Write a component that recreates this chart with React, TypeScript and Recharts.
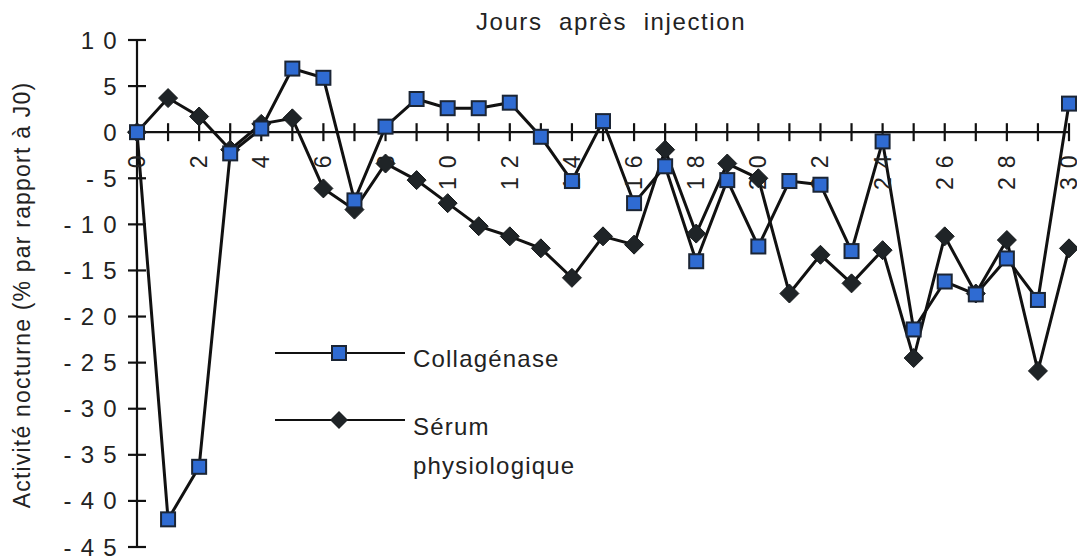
import React from 'react';
import { LineChart, Line, XAxis, YAxis, ReferenceLine, ReferenceDot } from 'recharts';

const days = [0,1,2,3,4,5,6,7,8,9,10,11,12,13,14,15,16,17,18,19,20,21,22,23,24,25,26,27,28,29,30];
const collagenase = [0,-42,-36.3,-2.3,0.4,6.9,5.9,-7.4,0.6,3.6,2.6,2.6,3.2,-0.5,-5.3,1.2,-7.7,-3.7,-14.0,-5.2,-12.4,-5.3,-5.7,-12.9,-1.0,-21.4,-16.2,-17.6,-13.7,-18.2,3.1];
const serum = [0,3.7,1.7,-1.9,0.9,1.5,-6.1,-8.4,-3.4,-5.2,-7.7,-10.2,-11.3,-12.6,-15.8,-11.3,-12.2,-1.9,-11.0,-3.4,-5.0,-17.5,-13.3,-16.4,-12.8,-24.5,-11.3,-17.5,-11.7,-25.9,-12.6];
const yTicks = [10,5,0,-5,-10,-15,-20,-25,-30,-35,-40,-45];
const xLabelDays = [0,2,4,6,8,10,12,14,16,18,20,22,24,26,28,30];

const data = days.map((d, i) => ({ day: d, collagenase: collagenase[i], serum: serum[i] }));

const FONT = '"Liberation Sans", Arial, sans-serif';
const TXT = '#222';

const spaced = (v: number) => {
  const s = String(Math.abs(v)).split('').join(' ');
  return v < 0 ? '- ' + s : s;
};

const SquareDot = (props: any) => {
  const { cx, cy } = props;
  if (cx == null || cy == null) return null;
  return <rect x={cx - 7} y={cy - 7} width={14} height={14} fill="#2f6bd2" stroke="#1b2535" strokeWidth={2} />;
};

const DiamondDot = (props: any) => {
  const { cx, cy } = props;
  if (cx == null || cy == null) return null;
  return <polygon points={`${cx},${cy - 9.5} ${cx + 9.5},${cy} ${cx},${cy + 9.5} ${cx - 9.5},${cy}`} fill="#1f2427" stroke="#15191b" strokeWidth={1} />;
};

const YTick = (props: any) => {
  const { x, y, payload } = props;
  return (
    <text x={x} y={y} textAnchor="end" dominantBaseline="central" fontFamily={FONT} fontSize={24} letterSpacing={1.3} fill={TXT}>
      {spaced(payload.value)}
    </text>
  );
};

const YTickMark = (props: any) => {
  const { cx, cy } = props;
  return <line x1={cx - 9} x2={cx + 9} y1={cy} y2={cy} stroke="#111" strokeWidth={2.2} />;
};

const makeXTick = (d: number) => (props: any) => {
  const { cx, cy } = props;
  const showLabel = xLabelDays.includes(d);
  return (
    <g>
      <line x1={cx} x2={cx} y1={cy - 9} y2={cy + 9} stroke="#111" strokeWidth={2.2} />
      {showLabel && (
        <text
          x={cx}
          y={cy + 22}
          transform={`rotate(-90 ${cx} ${cy + 22})`}
          textAnchor="end"
          dominantBaseline="central"
          fontFamily={FONT}
          fontSize={23}
          letterSpacing={1.3}
          fill={TXT}
        >
          {String(d).split('').join(' ')}
        </text>
      )}
    </g>
  );
};

export default function App() {
  return (
    <div style={{ position: 'absolute', left: 0, top: 0, width: 1077, height: 560, background: '#fff', overflow: 'hidden' }}>
      <LineChart width={1077} height={560} data={data} margin={{ top: 40, right: 8, bottom: 13, left: 0 }}>
        <XAxis dataKey="day" type="number" domain={[0, 30]} hide />
        <YAxis
          type="number"
          domain={[-45, 10]}
          ticks={yTicks}
          width={137}
          interval={0}
          tickLine={false}
          tickSize={9}
          tickMargin={10}
          axisLine={{ stroke: '#111', strokeWidth: 2.2 }}
          tick={<YTick />}
          allowDataOverflow
        />
        <ReferenceLine y={0} stroke="#111" strokeWidth={2.2} ifOverflow="extendDomain" />
        {yTicks.map((v) => (
          <ReferenceDot key={'yt' + v} x={0} y={v} r={0} shape={YTickMark} ifOverflow="visible" />
        ))}
        {days.map((d) => (
          <ReferenceDot key={'xt' + d} x={d} y={0} r={0} shape={makeXTick(d)} ifOverflow="visible" />
        ))}
        <Line type="linear" dataKey="serum" stroke="#111" strokeWidth={3} dot={DiamondDot} isAnimationActive={false} />
        <Line type="linear" dataKey="collagenase" stroke="#111" strokeWidth={3} dot={SquareDot} isAnimationActive={false} />
      </LineChart>
      <svg width={1077} height={560} style={{ position: 'absolute', left: 0, top: 0, pointerEvents: 'none' }}>
        <text x={611} y={30} textAnchor="middle" fontFamily={FONT} fontSize={24} letterSpacing={1.6} fill={TXT} style={{ whiteSpace: 'pre' }}>
          {'Jours  après  injection'}
        </text>
        <text
          x={22}
          y={295}
          transform="rotate(-90 22 295)"
          textAnchor="middle"
          dominantBaseline="central"
          fontFamily={FONT}
          fontSize={23}
          letterSpacing={1.2}
          fill={TXT}
        >
          Activité nocturne (% par rapport à J0)
        </text>
        <line x1={275} x2={405} y1={353} y2={353} stroke="#111" strokeWidth={2} />
        <rect x={332} y={346} width={14} height={14} fill="#2f6bd2" stroke="#1b2535" strokeWidth={2} />
        <text x={413} y={367} fontFamily={FONT} fontSize={24} letterSpacing={1.2} fill={TXT}>Collagénase</text>
        <line x1={275} x2={405} y1={420} y2={420} stroke="#111" strokeWidth={2} />
        <polygon points="339,411 348,420 339,429 330,420" fill="#1f2427" />
        <text x={413} y={435} fontFamily={FONT} fontSize={24} letterSpacing={1.2} fill={TXT}>Sérum</text>
        <text x={413} y={474} fontFamily={FONT} fontSize={24} letterSpacing={1.2} fill={TXT}>physiologique</text>
      </svg>
    </div>
  );
}
